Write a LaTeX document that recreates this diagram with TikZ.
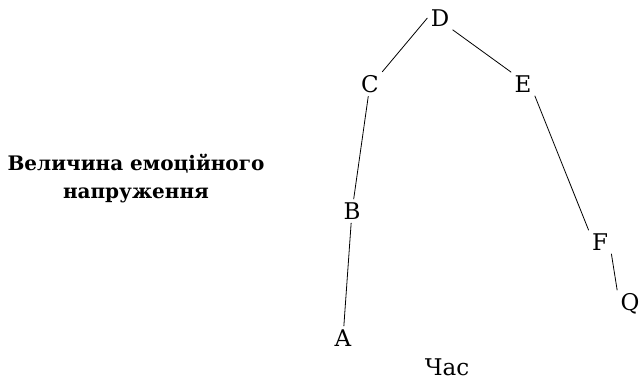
\documentclass[tikz,border=0pt]{standalone}
\usepackage{fontspec}
\setmainfont{DejaVu Serif}

\begin{document}
\begin{tikzpicture}[thick, x=1pt, y=-1pt,
    pt/.style={inner sep=3pt, font=\fontsize{23}{27}\selectfont}]
  \useasboundingbox (0,0) rectangle (640,380);

  \node[pt] (D) at (440,18) {D};
  \node[pt] (C) at (370,84) {C};
  \node[pt] (E) at (523,84) {E};
  \node[pt] (B) at (352,211) {B};
  \node[pt] (F) at (600,242) {F};
  \node[pt] (Q) at (630,304) {Q};
  \node[pt] (A) at (343,338) {A};

  \node[pt, inner sep=1pt] (T) at (447,367) {Час};
  \node[align=center, font=\fontsize{20}{28}\selectfont\bfseries]
    (Y) at (136,179) {Величина емоційного\\напруження};

  \draw (A) -- (B);
  \draw (B) -- (C);
  \draw (C.north east) -- (D.west);
  \draw (D.south east) -- (E.north west);
  \draw (E.south east) -- (F.north west);
  \draw (F.south east) -- (Q.north west);
\end{tikzpicture}
\end{document}
